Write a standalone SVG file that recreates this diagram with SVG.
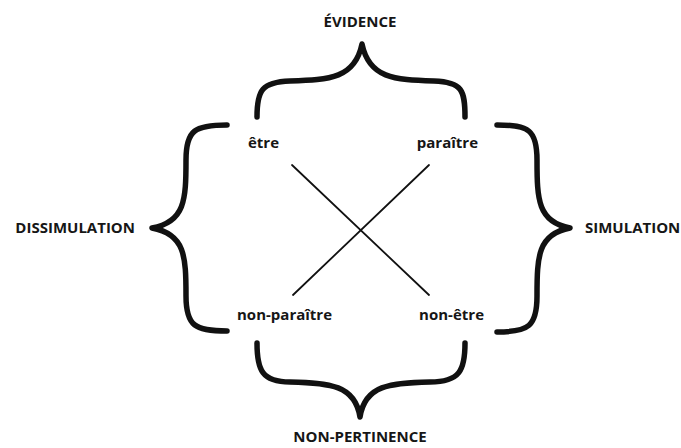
<svg xmlns="http://www.w3.org/2000/svg" width="681" height="448" viewBox="0 0 681 448">
<style>
text{font-family:"Open Sans","Liberation Sans",sans-serif;font-weight:bold;font-size:15px;fill:#161616}
.brace{fill:none;stroke:#111;stroke-width:5.5;stroke-linecap:round;stroke-linejoin:round}
.cross{stroke:#111;stroke-width:1.8;stroke-linecap:round}
</style>
<rect width="681" height="448" fill="#fff"/>
<g id="evidence"><text x="360" y="27" text-anchor="middle">ÉVIDENCE</text></g>
<g id="dissimulation"><text x="135" y="233" text-anchor="end">DISSIMULATION</text></g>
<g id="simulation"><text x="585" y="233">SIMULATION</text></g>
<g id="non-pertinence"><text x="360" y="442" text-anchor="middle">NON-PERTINENCE</text></g>
<g id="etre"><text x="248" y="148">être</text></g>
<g id="paraitre"><text x="478" y="148" text-anchor="end">paraître</text></g>
<g id="non-paraitre"><text x="237" y="320">non-paraître</text></g>
<g id="non-etre"><text x="484" y="320" text-anchor="end">non-être</text></g>
<g id="connectors">
<path class="brace" d="M257,117 C257,90 262,82 290,81 C330,80 355,78 362,44 C369,78 394,80 434,81 C462,82 465,90 465,117"/>
<path class="brace" d="M257,343 C257,370 262,382 290,382 C330,383 355,385 360,417 C365,385 390,383 430,382 C460,382 465,370 465,343"/>
<path class="brace" d="M227,125 C195,125 186,130 186,160 C186,200 185,222 152,228 C185,234 186,256 186,296 C186,326 195,331 227,331"/>
<path class="brace" d="M497,125 C529,125 537,130 537,160 C537,200 538,222 570,228 C538,234 537,256 537,296 C537,326 529,332 497,332"/>
<line class="cross" x1="292" y1="165" x2="429" y2="295"/>
<line class="cross" x1="429" y1="165" x2="293" y2="295"/>
</g>
</svg>
